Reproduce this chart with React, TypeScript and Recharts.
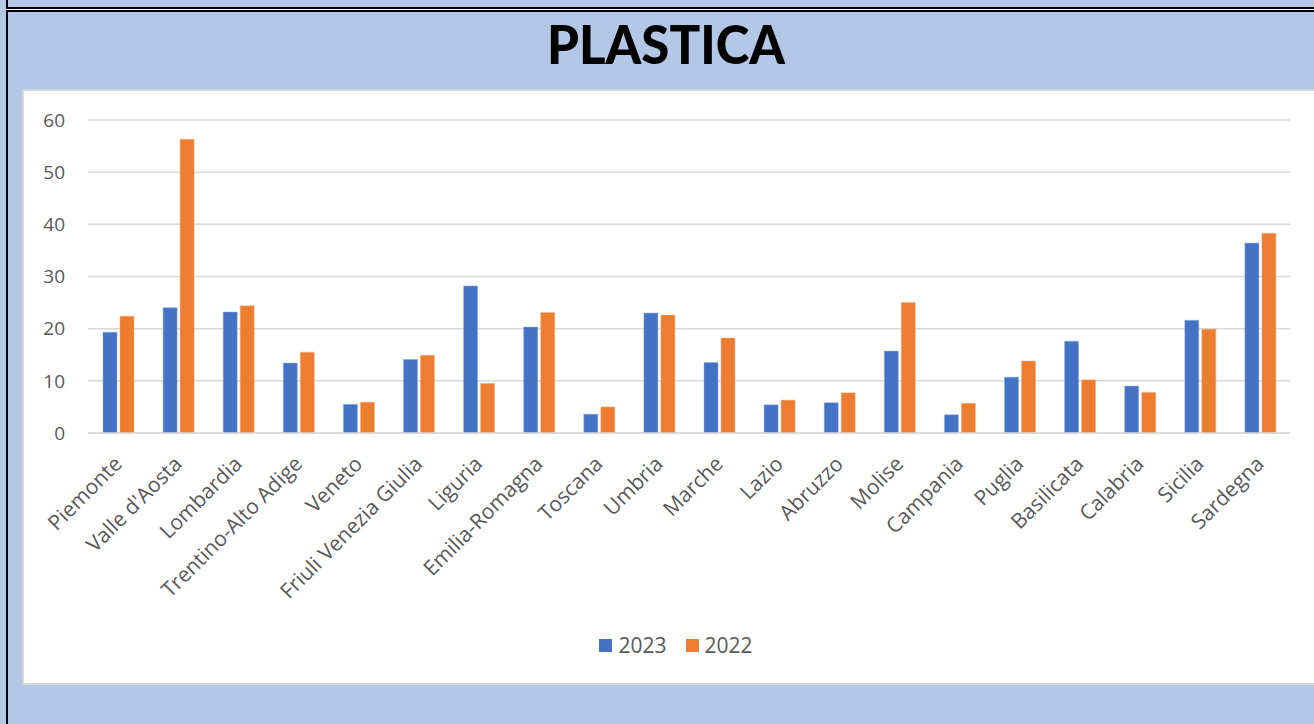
import React from "react";
import { BarChart, Bar, XAxis, YAxis, CartesianGrid, Legend } from "recharts";

const regions = [
  "Piemonte", "Valle d'Aosta", "Lombardia", "Trentino-Alto Adige", "Veneto",
  "Friuli Venezia Giulia", "Liguria", "Emilia-Romagna", "Toscana", "Umbria",
  "Marche", "Lazio", "Abruzzo", "Molise", "Campania", "Puglia", "Basilicata",
  "Calabria", "Sicilia", "Sardegna",
];
const values2023 = [19.3, 24.0, 23.2, 13.4, 5.5, 14.1, 28.2, 20.3, 3.6, 23.0, 13.5, 5.4, 5.8, 15.7, 3.5, 10.7, 17.6, 9.0, 21.6, 36.4];
const values2022 = [22.4, 56.3, 24.4, 15.5, 5.9, 14.9, 9.5, 23.1, 5.0, 22.6, 18.2, 6.3, 7.7, 25.0, 5.7, 13.8, 10.2, 7.8, 19.9, 38.3];
const yTicks = [0, 10, 20, 30, 40, 50, 60];
const seriesNames = ["2023", "2022"];
const title = "PLASTICA";

const data = regions.map((r, i) => ({ name: r, a2023: values2023[i], b2022: values2022[i] }));

const TEXT = "#595959";
const FONT = "'Open Sans', sans-serif";

const XTick = (props: any) => {
  const { x, y, payload } = props;
  const ax = x;
  const ay = y + 19;
  return (
    <text
      x={ax}
      y={ay}
      transform={`rotate(-45, ${ax}, ${ay})`}
      textAnchor="end"
      dy="0.35em"
      fill={TEXT}
      fontSize={21}
      fontFamily={FONT}
    >
      {payload.value}
    </text>
  );
};

const LegendContent = (props: any) => {
  const { payload } = props;
  const items = [...(payload || [])].sort((a: any, b: any) => String(a.dataKey).localeCompare(String(b.dataKey)));
  return (
    <div style={{ display: "flex", justifyContent: "center", alignItems: "center", fontFamily: FONT }}>
      {items.map((p: any, i: number) => (
        <div key={i} style={{ display: "flex", alignItems: "center", marginRight: i === 0 ? 19 : 0 }}>
          <div style={{ width: 13, height: 13, background: p.color, marginRight: 6 }} />
          <span style={{ fontSize: 21, color: TEXT, lineHeight: "24px" }}>{p.value}</span>
        </div>
      ))}
    </div>
  );
};

export default function App() {
  return (
    <div style={{ position: "absolute", left: 0, top: 0, width: 1314, height: 724, background: "#B4C7E7", overflow: "hidden" }}>
      <div style={{ position: "absolute", left: 6, top: 0, width: 2, height: 724, background: "#000" }} />
      <div style={{ position: "absolute", left: 6, top: 7, right: 0, height: 2, background: "#000" }} />
      <div style={{ position: "absolute", left: 6, top: 9, right: 0, height: 1, background: "#fff" }} />
      <div style={{ position: "absolute", left: 6, top: 10, right: 0, height: 2, background: "#000" }} />
      <div style={{ position: "absolute", left: 22, top: 89, width: 1300, height: 596, boxSizing: "border-box", background: "#fff", border: "2px solid #D9D9D9" }} />
      <svg style={{ position: "absolute", left: 0, top: 0 }} width={1314} height={90}>
        <text x={547} y={64} textLength={238} lengthAdjust="spacingAndGlyphs" fontFamily="Lato, sans-serif" fontWeight={900} fontSize={54} fill="#000">
          {title}
        </text>
      </svg>
      <div style={{ position: "absolute", left: 0, top: 0 }}>
        <BarChart
          width={1314}
          height={724}
          data={data}
          margin={{ top: 120, right: 24, left: 28, bottom: 141 }}
          barSize={14}
          barGap={3}
        >
          <CartesianGrid vertical={false} stroke="#D9D9D9" strokeWidth={1.5} />
          <XAxis
            dataKey="name"
            interval={0}
            height={150}
            axisLine={{ stroke: "#D9D9D9", strokeWidth: 1.5 }}
            tickLine={false}
            tick={<XTick />}
          />
          <YAxis
            width={60}
            domain={[0, 60]}
            ticks={yTicks}
            axisLine={false}
            tickLine={false}
            tickSize={0}
            tickMargin={23}
            tick={{ fill: TEXT, fontSize: 19, fontFamily: FONT }}
          />
          <Legend
            layout="horizontal"
            verticalAlign="middle"
            align="center"
            wrapperStyle={{ top: 633, left: 576, width: 200 }}
            content={<LegendContent />}
          />
          <Bar dataKey="a2023" name={seriesNames[0]} fill="#4472C4" stroke="#8FAADC" strokeWidth={0.5} isAnimationActive={false} />
          <Bar dataKey="b2022" name={seriesNames[1]} fill="#ED7D31" stroke="#F4B183" strokeWidth={0.5} isAnimationActive={false} />
        </BarChart>
      </div>
    </div>
  );
}
